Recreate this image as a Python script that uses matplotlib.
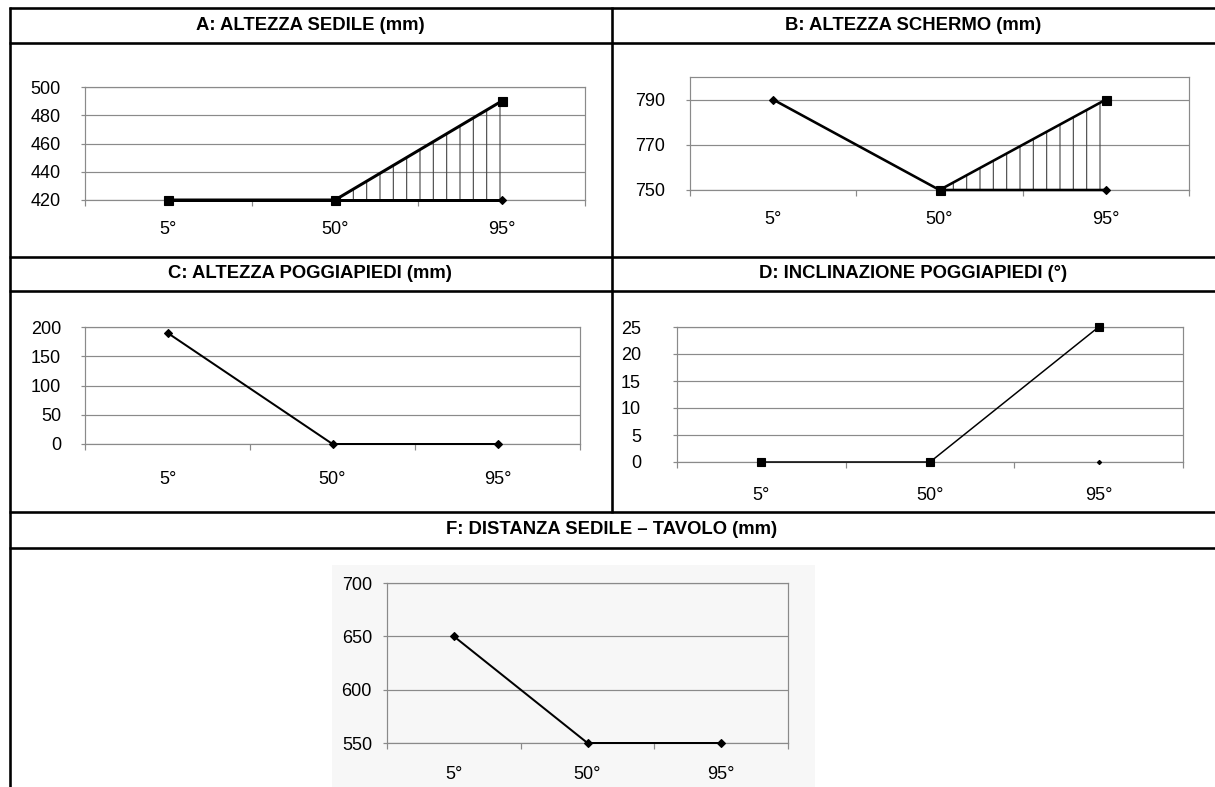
import numpy as np
import matplotlib
matplotlib.use("Agg")
import matplotlib.pyplot as plt
from matplotlib.lines import Line2D
from matplotlib.patches import Rectangle

# ---------------- data ----------------
categories = ['5°', '50°', '95°']

a_max = [420, 420, 490]
a_min = [420, 420, 420]

b_max = [np.nan, 750, 790]
b_min = [790, 750, 750]

c_vals = [190, 0, 0]

d_vals = [0, 0, 25]
d_extra = [np.nan, np.nan, 0]

f_vals = [650, 550, 550]

titles = ['A: ALTEZZA SEDILE (mm)', 'B: ALTEZZA SCHERMO (mm)',
          'C: ALTEZZA POGGIAPIEDI (mm)', 'D: INCLINAZIONE POGGIAPIEDI (°)',
          'F: DISTANZA SEDILE – TAVOLO (mm)']

# ---------------- figure ----------------
W, H = 1215, 787
DPI = 80
plt.rcParams['font.family'] = ['Liberation Sans', 'DejaVu Sans']
fig = plt.figure(figsize=(W / DPI, H / DPI), dpi=DPI)
fig.patch.set_facecolor('white')


def pt(px):
    return px * 72.0 / DPI


GRID = '#8a8a8a'
TICK_FS = pt(18)


def fx(x):
    return x / W


def fy(y):
    return 1 - y / H


def hline(y, x0=9, x1=W):
    fig.add_artist(Line2D([fx(x0), fx(x1)], [fy(y), fy(y)], transform=fig.transFigure,
                          color='black', lw=pt(2.6), solid_capstyle='butt'))


def vline(x, y0, y1):
    fig.add_artist(Line2D([fx(x), fx(x)], [fy(y0), fy(y1)], transform=fig.transFigure,
                          color='black', lw=pt(2.6), solid_capstyle='butt'))


# table structure
for y in [8, 43, 257, 291, 512, 548]:
    hline(y)
vline(9.5, 6.7, H)
vline(612, 6.7, 513)

# titles
title_pos = [(310, 25), (913, 25), (310, 274), (913, 274), (612, 530)]
for t, (x, y) in zip(titles, title_pos):
    fig.text(fx(x), fy(y), t, ha='center', va='center', fontweight='bold',
             fontsize=pt(18.5), color='black')

# F chart area background
fig.add_artist(Rectangle((fx(332), fy(H)), fx(815) - fx(332), fy(565) - fy(H),
                         transform=fig.transFigure, facecolor='#f7f7f7',
                         edgecolor='none', zorder=0))


def make_ax(l, t, r, b, ylim, yticks, ypad, xpad):
    ax = fig.add_axes([fx(l), fy(b), fx(r) - fx(l), fy(t) - fy(b)])
    ax.set_facecolor('none')
    x = np.arange(len(categories))
    ax.set_xlim(-0.5, len(categories) - 0.5)
    ax.set_ylim(*ylim)
    ax.set_xticks(x)
    ax.set_xticklabels(categories, fontsize=TICK_FS)
    ax.set_xticks(np.arange(-0.5, len(categories), 1.0), minor=True)
    ax.tick_params(axis='x', which='major', length=0, pad=pt(xpad))
    ax.tick_params(axis='x', which='minor', length=pt(6), color=GRID, width=pt(1.2))
    ax.set_yticks(yticks)
    ax.set_yticklabels([str(v) for v in yticks], fontsize=TICK_FS)
    ax.tick_params(axis='y', length=pt(4), color=GRID, width=pt(1.2), pad=pt(ypad))
    ax.yaxis.grid(True, color=GRID, lw=pt(1.2))
    ax.set_axisbelow(True)
    for s in ax.spines.values():
        s.set_color(GRID)
        s.set_linewidth(pt(1.2))
    return ax, x


# ---- A ----
ax, x = make_ax(85, 87, 585, 200, (420, 500), [420, 440, 460, 480, 500], 20, 21)
ax.fill_between(x, a_min, a_max, facecolor='none', edgecolor='#444444', hatch='|',
                linewidth=0, zorder=2)
ax.plot(x, a_min, color='black', lw=pt(3), marker='D', ms=pt(5), zorder=3, clip_on=False)
ax.plot(x, a_max, color='black', lw=pt(3), marker='s', ms=pt(9), zorder=4, clip_on=False)

# ---- B ----
ax, x = make_ax(690, 77, 1189, 190, (750, 800), [750, 770, 790], 21, 21)
ax.fill_between(x, b_min, b_max, facecolor='none', edgecolor='#444444', hatch='|',
                linewidth=0, zorder=2)
ax.plot(x, b_min, color='black', lw=pt(2.6), marker='D', ms=pt(5), zorder=3, clip_on=False)
ax.plot(x, b_max, color='black', lw=pt(2.6), marker='s', ms=pt(9), zorder=4, clip_on=False)

# ---- C ----
ax, x = make_ax(85, 327, 580, 444, (0, 200), [0, 50, 100, 150, 200], 20, 27)
ax.plot(x, c_vals, color='black', lw=pt(2), marker='D', ms=pt(6), zorder=3, clip_on=False)

# ---- D ----
ax, x = make_ax(677, 327, 1183, 462, (0, 25), [0, 5, 10, 15, 20, 25], 32, 25)
ax.plot(x, d_vals, color='black', lw=pt(1.5), marker='s', ms=pt(8), zorder=3, clip_on=False)
ax.plot(x, d_extra, color='black', lw=0, marker='D', ms=pt(3), zorder=3, clip_on=False)

# ---- F ----
ax, x = make_ax(387, 583, 788, 743, (550, 700), [550, 600, 650, 700], 11, 23)
ax.plot(x, f_vals, color='black', lw=pt(2), marker='D', ms=pt(6), zorder=3, clip_on=False)

fig.savefig('out.png', dpi=DPI)
